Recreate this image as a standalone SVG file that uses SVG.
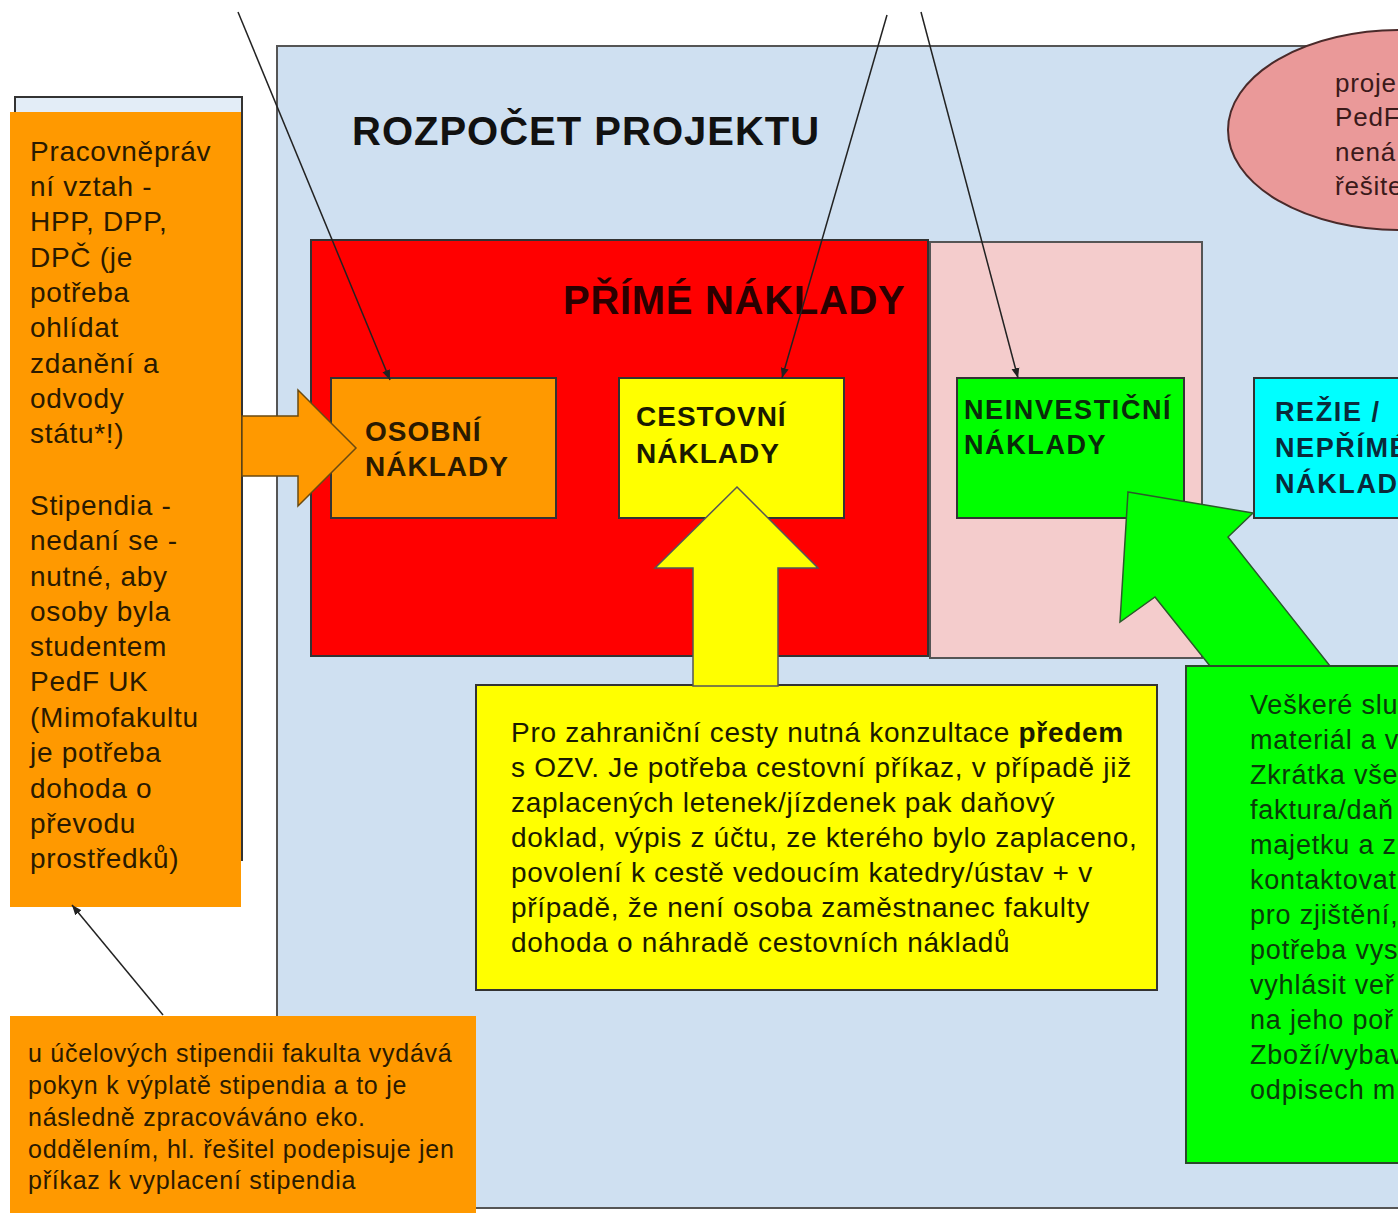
<svg xmlns="http://www.w3.org/2000/svg" width="1398" height="1213" viewBox="0 0 1398 1213">
<defs>
<style>
.t{font-family:"Liberation Sans",Arial,sans-serif;}
.b{font-weight:bold;}
.ln{stroke:#222;stroke-width:1.5;fill:none;}
.box{stroke:#333;stroke-width:2;}
.tx{font-size:28px;letter-spacing:0.7px;}
.lbl{font-size:28px;letter-spacing:1px;font-weight:bold;}
.lbl2{font-size:27px;letter-spacing:1.6px;font-weight:bold;}
.ttl{font-size:40px;font-weight:bold;}
</style>
<marker id="ah" viewBox="0 0 10 10" refX="10" refY="5" markerWidth="10" markerHeight="10" orient="auto" markerUnits="userSpaceOnUse">
<path d="M0,1 L10,5 L0,9 z" fill="#222"/>
</marker>
</defs>
<rect width="1398" height="1213" fill="#ffffff"/>

<g id="budget">
<rect x="277" y="46" width="1200" height="1162" fill="#cfe0f1" stroke="#555" stroke-width="2"/>
<text class="t ttl" x="352" y="145" letter-spacing="1" fill="#111">ROZPOČET PROJEKTU</text>
</g>

<g id="ellipse-note">
<ellipse cx="1400" cy="130" rx="172" ry="100" fill="#ea9999" stroke="#4a2a2a" stroke-width="2"/>
<text class="t" font-size="26" letter-spacing="0.8" fill="#3a1a1a"><tspan x="1335" y="92">proje</tspan><tspan x="1335" y="126">PedF</tspan><tspan x="1335" y="161">nená</tspan><tspan x="1335" y="195">řešite</tspan></text>
</g>

<g id="direct-costs">
<rect class="box" x="311" y="240" width="617" height="416" fill="#ff0000"/>
<text class="t ttl" x="563" y="314" letter-spacing="0.7" fill="#2a0000">PŘÍMÉ NÁKLADY</text>
</g>

<g id="pink-area">
<rect x="930" y="242" width="272" height="416" fill="#f4cccc" stroke="#555" stroke-width="2"/>
</g>

<g id="osobni">
<rect class="box" x="331" y="378" width="225" height="140" fill="#ff9900"/>
<text class="t lbl" fill="#2a1a00"><tspan x="365" y="441">OSOBNÍ</tspan><tspan x="365" y="476">NÁKLADY</tspan></text>
</g>

<g id="cestovni">
<rect class="box" x="619" y="378" width="225" height="140" fill="#ffff00"/>
<text class="t lbl" fill="#1a1a00"><tspan x="636" y="426">CESTOVNÍ</tspan><tspan x="636" y="463">NÁKLADY</tspan></text>
</g>

<g id="neinvesticni">
<rect class="box" x="957" y="378" width="227" height="140" fill="#00ff00"/>
<text class="t lbl2" fill="#0a2a0a"><tspan x="964" y="419">NEINVESTIČNÍ</tspan><tspan x="964" y="454">NÁKLADY</tspan></text>
</g>

<g id="rezie">
<rect class="box" x="1254" y="378" width="200" height="140" fill="#00ffff"/>
<text class="t lbl2" fill="#0a2a3a"><tspan x="1275" y="421">REŽIE /</tspan><tspan x="1275" y="457">NEPŘÍMÉ</tspan><tspan x="1275" y="493">NÁKLADY</tspan></text>
</g>

<g id="left-note">
<rect x="15" y="97" width="227" height="763" fill="#e3edf7" stroke="#333" stroke-width="2"/>
<rect x="10" y="112" width="231" height="795" fill="#ff9900"/>
<text class="t tx" fill="#2a1a00">
<tspan x="30" y="161">Pracovněpráv</tspan>
<tspan x="30" y="196">ní vztah -</tspan>
<tspan x="30" y="231">HPP, DPP,</tspan>
<tspan x="30" y="267">DPČ (je</tspan>
<tspan x="30" y="302">potřeba</tspan>
<tspan x="30" y="337">ohlídat</tspan>
<tspan x="30" y="373">zdanění a</tspan>
<tspan x="30" y="408">odvody</tspan>
<tspan x="30" y="443">státu*!)</tspan>
<tspan x="30" y="515">Stipendia -</tspan>
<tspan x="30" y="550">nedaní se -</tspan>
<tspan x="30" y="586">nutné, aby</tspan>
<tspan x="30" y="621">osoby byla</tspan>
<tspan x="30" y="656">studentem</tspan>
<tspan x="30" y="691">PedF UK</tspan>
<tspan x="30" y="727">(Mimofakultu</tspan>
<tspan x="30" y="762">je potřeba</tspan>
<tspan x="30" y="798">dohoda o</tspan>
<tspan x="30" y="833">převodu</tspan>
<tspan x="30" y="868">prostředků)</tspan>
</text>
</g>

<g id="stipend-note">
<rect x="10" y="1016" width="466" height="200" fill="#ff9900"/>
<text class="t" font-size="25" letter-spacing="0.75" fill="#2a1a00">
<tspan x="28" y="1062">u účelových stipendii fakulta vydává</tspan>
<tspan x="28" y="1094">pokyn k výplatě stipendia a to je</tspan>
<tspan x="28" y="1126">následně zpracováváno eko.</tspan>
<tspan x="28" y="1158">oddělením, hl. řešitel podepisuje jen</tspan>
<tspan x="28" y="1189">příkaz k vyplacení stipendia</tspan>
</text>
</g>

<g id="travel-note">
<rect x="476" y="685" width="681" height="305" fill="#ffff00" stroke="#333" stroke-width="2"/>
<text class="t tx" fill="#1a1a00">
<tspan x="511" y="742">Pro zahraniční cesty nutná konzultace <tspan font-weight="bold">předem</tspan></tspan>
<tspan x="511" y="777">s OZV. Je potřeba cestovní příkaz, v případě již</tspan>
<tspan x="511" y="812">zaplacených letenek/jízdenek pak daňový</tspan>
<tspan x="511" y="847">doklad, výpis z účtu, ze kterého bylo zaplaceno,</tspan>
<tspan x="511" y="882">povolení k cestě vedoucím katedry/ústav + v</tspan>
<tspan x="511" y="917">případě, že není osoba zaměstnanec fakulty</tspan>
<tspan x="511" y="952">dohoda o náhradě cestovních nákladů</tspan>
</text>
</g>

<g id="connectors">
<polygon points="242,416 298,416 298,390 356,448 298,506 298,476 242,476" fill="#ff9900" stroke="#6a4a10" stroke-width="1.5"/>
<polygon points="737,487 818,568 778,568 778,686 693,686 693,568 655,568" fill="#ffff00" stroke="#555" stroke-width="1.5"/>
<polygon points="1128,492 1253,513 1228,537 1330,666 1210,666 1155,597 1120,622" fill="#00ff00" stroke="#2a5a2a" stroke-width="1.5"/>
<line class="ln" x1="238" y1="12" x2="390" y2="380" marker-end="url(#ah)"/>
<line class="ln" x1="887" y1="15" x2="782" y2="378" marker-end="url(#ah)"/>
<line class="ln" x1="921" y1="12" x2="1018" y2="378" marker-end="url(#ah)"/>
<line class="ln" x1="163" y1="1015" x2="72" y2="905" marker-end="url(#ah)"/>
</g>

<g id="invest-note">
<rect x="1186" y="666" width="260" height="497" fill="#00ff00" stroke="#2a4a2a" stroke-width="2"/>
<text class="t" font-size="27" letter-spacing="0.8" fill="#0a3a0a">
<tspan x="1250" y="714">Veškeré slu</tspan>
<tspan x="1250" y="749">materiál a v</tspan>
<tspan x="1250" y="784">Zkrátka vše</tspan>
<tspan x="1250" y="819">faktura/daň</tspan>
<tspan x="1250" y="854">majetku a z</tspan>
<tspan x="1250" y="889">kontaktovat</tspan>
<tspan x="1250" y="924">pro zjištění,</tspan>
<tspan x="1250" y="959">potřeba vys</tspan>
<tspan x="1250" y="994">vyhlásit veř</tspan>
<tspan x="1250" y="1029">na jeho poř</tspan>
<tspan x="1250" y="1064">Zboží/vybav</tspan>
<tspan x="1250" y="1099">odpisech m</tspan>
</text>
</g>
</svg>
